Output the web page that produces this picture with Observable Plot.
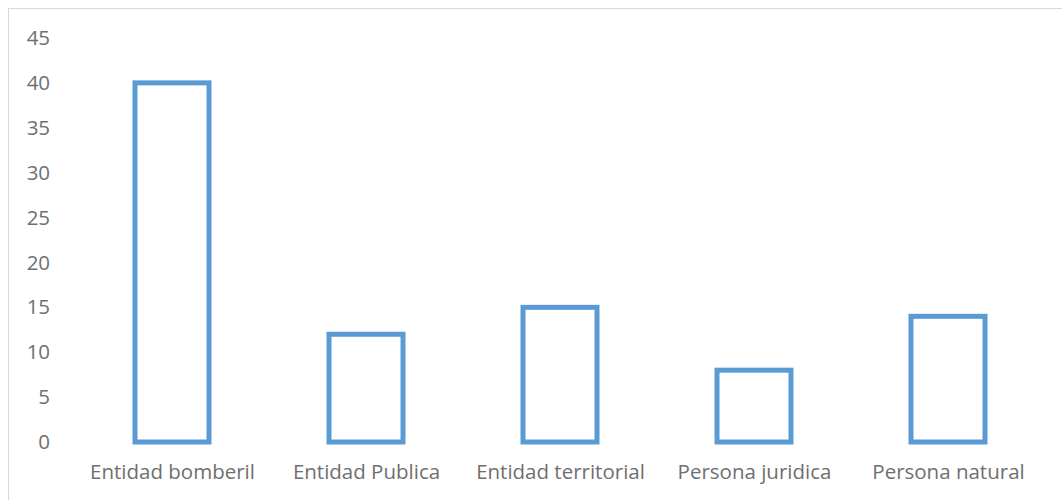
<!DOCTYPE html>
<html>
<head>
<meta charset="utf-8">
<script src="https://cdn.jsdelivr.net/npm/d3@7"></script>
<script src="https://cdn.jsdelivr.net/npm/@observablehq/plot@0.6"></script>
<style>
  html, body { margin: 0; padding: 0; background: #fff; }
  #wrap { position: relative; width: 1062px; height: 500px; overflow: hidden; }
  #frame { position: absolute; left: 8px; top: 8px; width: 1100px; height: 600px; border-left: 1px solid #d9d9d9; border-top: 1px solid #d9d9d9; pointer-events: none; }
  #wrap svg { position: absolute; left: 0; top: 0; }
</style>
</head>
<body>
<div id="wrap"><div id="frame"></div></div>
<script>
const categories = ["Entidad bomberil", "Entidad Publica", "Entidad territorial", "Persona juridica", "Persona natural"];
const values = [40, 12, 15, 8, 14];
const yTicks = [0, 5, 10, 15, 20, 25, 30, 35, 40, 45];

const data = categories.map((c, i) => ({category: c, value: values[i]}));

const chart = Plot.plot({
  width: 1062,
  height: 500,
  marginLeft: 72.6,
  marginRight: 15.6,
  marginTop: 38,
  marginBottom: 58,
  style: {fontFamily: "'Open Sans', sans-serif", fontSize: "20.5px", color: "#6f6f6f", background: "transparent"},
  x: {domain: categories, paddingInner: 0.62, paddingOuter: 0.31, label: null},
  y: {domain: [0, 45], label: null},
  marks: [
    Plot.barY(data, {x: "category", y: "value", fill: "white", stroke: "#5B9BD5", strokeWidth: 5}),
    Plot.axisY({ticks: yTicks, tickSize: 0, tickPadding: 23, fill: "#6f6f6f", label: null}),
    Plot.axisX({tickSize: 0, tickPadding: 22, fill: "#6f6f6f", label: null})
  ]
});
document.getElementById("wrap").prepend(chart);
</script>
</body>
</html>
